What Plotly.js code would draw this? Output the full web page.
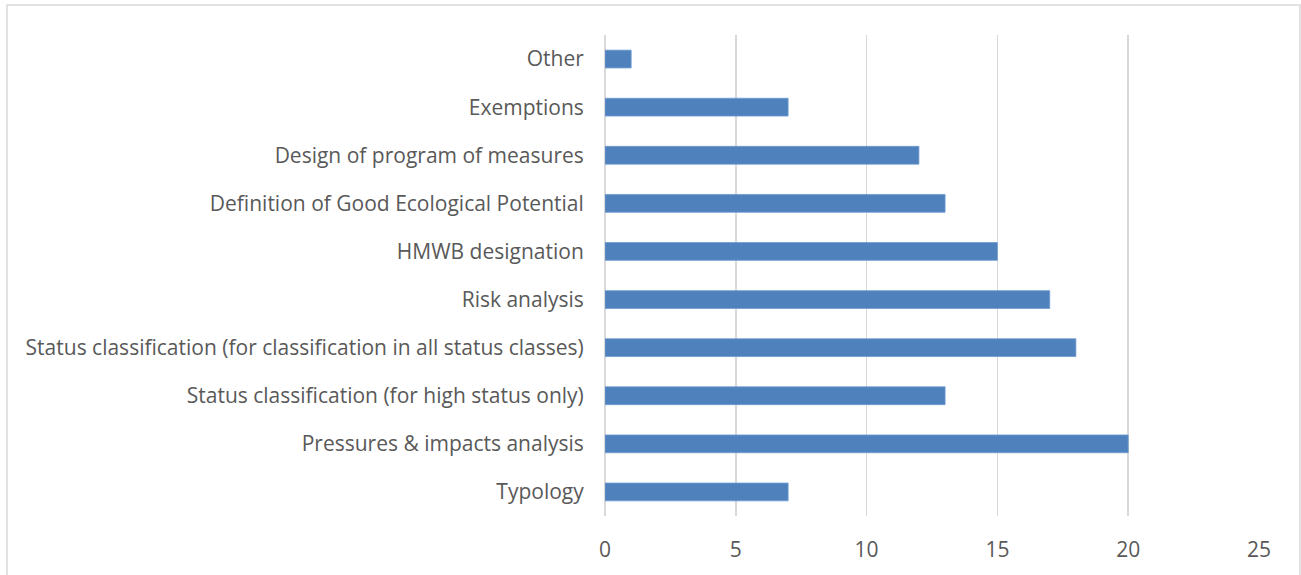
<!DOCTYPE html>
<html><head><meta charset="utf-8">
<script src="https://cdn.plot.ly/plotly-3.0.1.min.js"></script>
<style>body{margin:0;background:#fff}#chart{width:1301px;height:575px}</style>
</head><body><div id="chart"></div>
<script>
var categories = ["Typology","Pressures & impacts analysis","Status classification (for high status only)","Status classification (for classification in all status classes)","Risk analysis","HMWB designation","Definition of Good Ecological Potential","Design of program of measures","Exemptions","Other"];
var values = [7,20,13,18,17,15,13,12,7,1];
var tickVals = [0,5,10,15,20,25];

var W=1301,H=575,L=605,R=1259,T=35,B=516;
function px(x){return (x-L)/(R-L);}
function py(y){return (B-y)/(B-T);}

Plotly.newPlot('chart',[{
  type:'bar', orientation:'h', x:values, y:categories, width:0.37,
  marker:{color:'#4F81BD', line:{color:'#6E9AD0', width:0.8}},
  hoverinfo:'x+y'
}],{
  width:W,height:H,
  margin:{l:L,r:W-R,t:T,b:H-B,pad:0},
  paper_bgcolor:'#fff',plot_bgcolor:'#fff',
  font:{family:'Open Sans, Liberation Sans, sans-serif',size:21,color:'#595959'},
  showlegend:false,
  xaxis:{range:[0,25],tickvals:tickVals,showgrid:true,gridcolor:'#D9D9D9',gridwidth:1.5,
    zeroline:true,zerolinecolor:'#D9D9D9',zerolinewidth:1.5,showline:false,
    ticks:'outside',ticklen:15,tickcolor:'rgba(0,0,0,0)',fixedrange:true,
    tickfont:{size:21,color:'#595959'}},
  yaxis:{type:'category',categoryorder:'array',categoryarray:categories,range:[-0.5,9.5],
    showgrid:false,zeroline:false,showline:false,ticks:'outside',ticklen:16,tickcolor:'rgba(0,0,0,0)',
    tickfont:{size:21,color:'#595959'},fixedrange:true},
  shapes:[{type:'rect',xref:'paper',yref:'paper',x0:px(7),x1:px(1300),y0:py(5),y1:py(590),
    line:{color:'#D9D9D9',width:1.5},fillcolor:'rgba(0,0,0,0)',layer:'below'}]
},{displayModeBar:false,staticPlot:true});
</script></body></html>
